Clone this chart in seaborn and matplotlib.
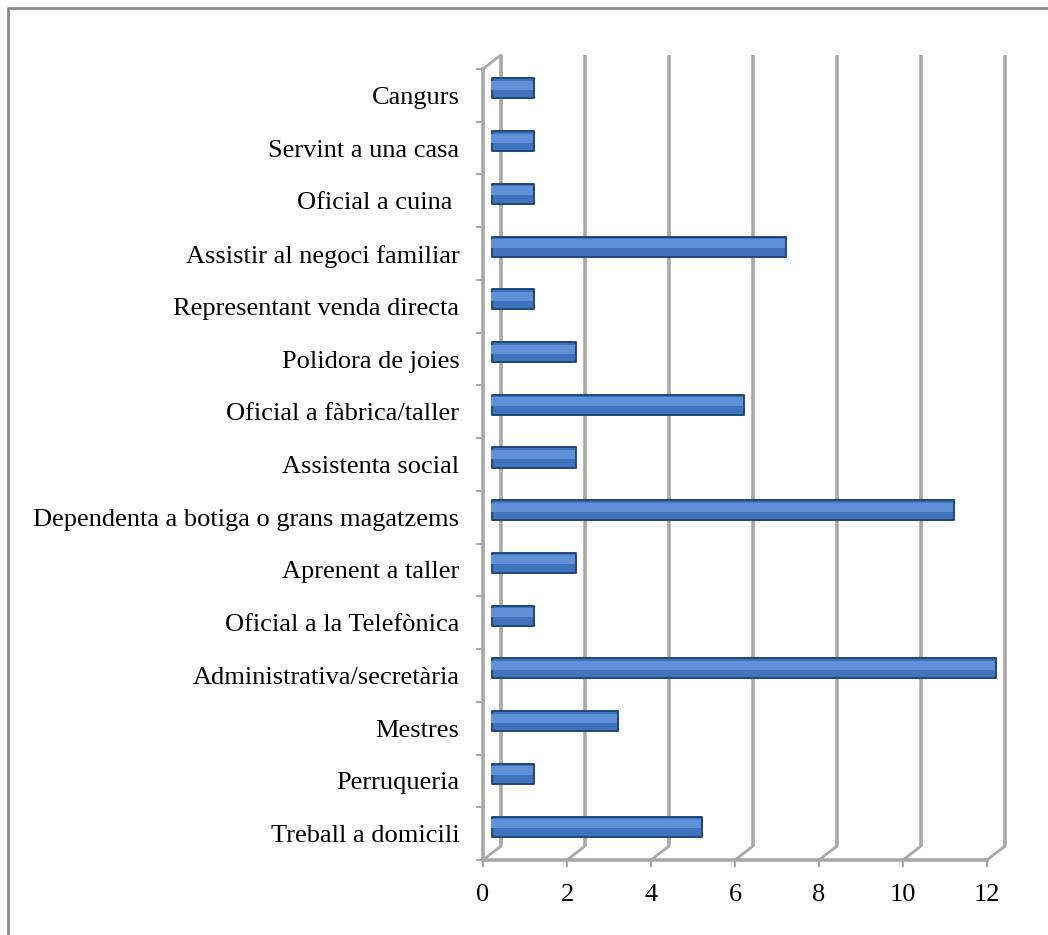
import seaborn as sns
import matplotlib.pyplot as plt
import matplotlib.transforms as mtransforms
from matplotlib.patches import ConnectionPatch
from matplotlib.lines import Line2D
import pandas as pd

# Data (top to bottom)
occupations = ['Cangurs', 'Servint a una casa', 'Oficial a cuina ', 'Assistir al negoci familiar',
               'Representant venda directa', 'Polidora de joies', 'Oficial a fàbrica/taller',
               'Assistenta social', 'Dependenta a botiga o grans magatzems', 'Aprenent a taller',
               'Oficial a la Telefònica', 'Administrativa/secretària', 'Mestres', 'Perruqueria',
               'Treball a domicili']
counts = [1, 1, 1, 7, 1, 2, 6, 2, 11, 2, 1, 12, 3, 1, 5]
x_ticks = [0, 2, 4, 6, 8, 10, 12]

df = pd.DataFrame({'ocupacio': occupations, 'n': counts})

sns.set_style('white')
plt.rcParams['font.family'] = ['Liberation Serif', 'DejaVu Serif']
plt.rcParams['text.color'] = 'black'
plt.rcParams['xtick.labelcolor'] = 'black'
plt.rcParams['ytick.labelcolor'] = 'black'

fig = plt.figure(figsize=(10.48, 9.35), dpi=100)
# front plane of the fake 3D box
ax = fig.add_axes([483 / 1048, 1 - 860 / 935, 504 / 1048, 791 / 935])

# offsets for the middle (bars) and back (wall) planes, in pixels
dpi = fig.dpi
mid = mtransforms.ScaledTranslation(9 / dpi, 7 / dpi, fig.dpi_scale_trans)
back = mtransforms.ScaledTranslation(18 / dpi, 14 / dpi, fig.dpi_scale_trans)
hi = mtransforms.ScaledTranslation(8 / dpi, 10 / dpi, fig.dpi_scale_trans)

# main cylinder body
sns.barplot(data=df, x='n', y='ocupacio', orient='h', color='#3f73bd', width=0.38,
            edgecolor='#21467a', linewidth=1.4, saturation=1, ax=ax, zorder=3)
n_main = len(ax.patches)
# softer highlight band on the upper half of each bar
sns.barplot(data=df, x='n', y='ocupacio', orient='h', color='#5f91d8', width=0.17,
            linewidth=0, saturation=1, ax=ax, zorder=4)

for i, p in enumerate(ax.patches):
    p.set_transform(ax.transData + (mid if i < n_main else hi))
    p.set_clip_on(False)
    p.set_joinstyle('round')

ax.set_xlim(0, 12)
ax.set_ylim(len(occupations) - 0.5, -0.5)

grid_col = '#a8a8a8'
# back wall gridlines
for v in x_ticks:
    ax.plot([v, v], [0, 1], transform=ax.get_xaxis_transform() + back,
            color=grid_col, lw=2.6, clip_on=False, zorder=1, solid_capstyle='butt')
    con = ConnectionPatch(xyA=(v, 0), coordsA=ax.get_xaxis_transform(),
                          xyB=(v, 0), coordsB=ax.get_xaxis_transform() + back,
                          color=grid_col, lw=2.0, zorder=1)
    fig.add_artist(con)
# top left diagonal
con = ConnectionPatch(xyA=(0, 1), coordsA=ax.transAxes,
                      xyB=(0, 1), coordsB=ax.transAxes + back,
                      color=grid_col, lw=2.0, zorder=1)
fig.add_artist(con)

# front axes
for side in ['top', 'right']:
    ax.spines[side].set_visible(False)
for side in ['left', 'bottom']:
    ax.spines[side].set_color(grid_col)
    ax.spines[side].set_linewidth(2.6)

ax.set_xticks(x_ticks)
ax.set_xticklabels([str(v) for v in x_ticks])
ax.set_yticks(range(len(occupations)))
ax.set_yticklabels(occupations)
ax.set_yticks([k - 0.5 for k in range(len(occupations) + 1)], minor=True)
ax.tick_params(axis='x', direction='out', length=5, width=1.5, color=grid_col,
               labelsize=19, pad=12, bottom=True, labelcolor='black')
ax.tick_params(axis='y', which='major', length=0, labelsize=19, pad=17, labelcolor='black')
ax.tick_params(axis='y', which='minor', direction='out', length=5, width=1.5,
               color=grid_col, left=True)
ax.set_xlabel('')
ax.set_ylabel('')
ax.grid(False)

# outer frame of the original picture (top and left edges only)
fig.add_artist(Line2D([8 / 1048, 8 / 1048, 1], [0, 1 - 8 / 935, 1 - 8 / 935],
                      transform=fig.transFigure, color='#8a8a8a', lw=2))

fig.savefig('out.png', dpi=100, facecolor='white')
